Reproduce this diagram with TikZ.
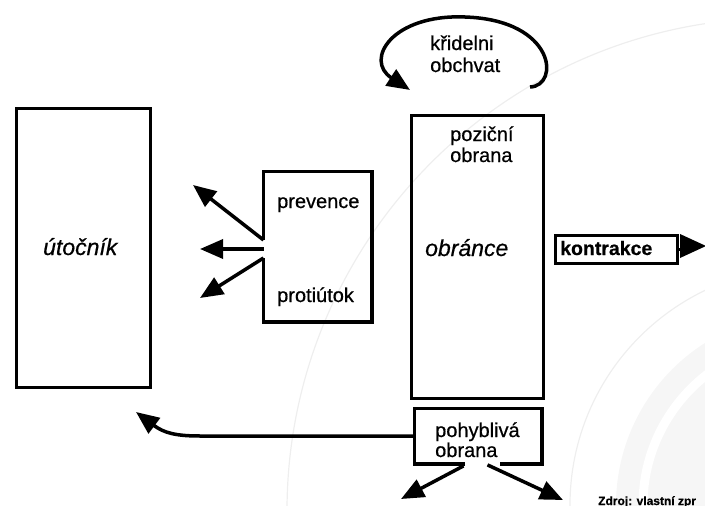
\documentclass[tikz,border=0pt]{standalone}
\usepackage{fontspec}
\setmainfont{Liberation Sans}[FakeBold=0.6]
\usetikzlibrary{arrows.meta,calc}
\begin{document}
\begin{tikzpicture}[x=1pt,y=-1pt,
  boxline/.style={line width=3.5pt, line join=miter},
  frame/.style={inner sep=0pt, anchor=north west},
  box/.style={frame, draw, boxline},
  label/.style={anchor=base west, inner sep=0pt, font=\fontsize{20}{22}\selectfont},
  biglabel/.style={anchor=base west, inner sep=0pt, font=\fontsize{23}{25}\selectfont\itshape},
  arr/.style={line width=3.5pt, -{Triangle[length=23pt,width=19pt]}},
  wm/.style={gray!13, line width=1.2pt}]
\useasboundingbox (0,0) rectangle (705,506);
\clip (0,0) rectangle (705,506);

% faint background arcs
\fill[gray!7] (808,505) circle[radius=192];
\draw[white, line width=9pt] (808,505) circle[radius=165];
\draw[wm] (780,511) circle[radius=493];
\draw[wm] (808,505) circle[radius=238];

% attacker
\node[box, minimum width=134pt, minimum height=279pt] (att) at (14.5,106.5) {};
\node[biglabel] (tatt) at (43,255) {útočník};

% prevention / counter-attack box (gap in left edge for the arrows)
\node[frame, minimum width=108pt, minimum height=150pt] (prev) at (263.5,171.5) {};
\draw[boxline] ($(prev.north west)+(0,68.5)$) |- (prev.north east) |- (prev.south west) -- ($(prev.north west)+(0,86.5)$);
\node[label] (tprev) at (277,208) {prevence};
\node[label] (tprot) at (277,302) {protiútok};
\coordinate (pa) at (193,185);
\coordinate (pb) at (200,249);
\coordinate (pc) at (200,298);
\draw[arr] ($(prev.north west)+(0,68.5)$) -- (pa);
\draw[arr] ($(prev.north west)+(0,77.5)$) -- (pb);
\draw[arr] ($(prev.north west)+(0,86.5)$) -- (pc);

% defender
\node[box, minimum width=132pt, minimum height=283pt] (obr) at (409.5,113.5) {};
\node[label] (tpoz) at (450,141) {poziční};
\node[label] (tpozb) at (450,162) {obrana};
\node[biglabel] (tobr) at (425,256) {obránce};

% flank move loop
\coordinate (wtail) at (530,87);
\coordinate (wtop) at (465,17);
\coordinate (wtip) at (410,90);
\draw[arr] (wtail) .. controls (560,86) and (556,20) .. (wtop) .. controls (392,14) and (364,60) .. (wtip);
\node[label] (tkri) at (430,50) {křidelni};
\node[label] (tobch) at (430,72) {obchvat};

% counter-attack: short stub ending in a large solid head
\node[box, minimum width=122pt, minimum height=28pt] (kon) at (553.5,233.5) {};
\node[label, font=\fontsize{19.5}{22}\selectfont\bfseries] (tkon) at (560,255) {kontrakce};
\coordinate (kontip) at (706,246);
\draw[line width=3.5pt] (kon.east) -- ++(6,0);
\fill (kontip) -- ++(-26,-12) -- ++(0,24) -- cycle;

% mobile defence (gap in bottom edge for the arrows)
\node[frame, minimum width=127pt, minimum height=55pt] (pohyb) at (414.5,408.5) {};
\draw[boxline] ($(pohyb.south west)+(50.5,0)$) -| (pohyb.north west) -| (pohyb.south east) -- ++(-41.5,0);
\node[label] (tpoh) at (435,437) {pohyblivá};
\node[label] (tpohb) at (435,457) {obrana};
\coordinate (bend) at (200,436);
\coordinate (attip) at (136,412);
\draw[arr] (pohyb.west) -- (bend) .. controls (176,436) and (164,433) .. (attip);
\coordinate (pl) at (401,499);
\coordinate (pr) at (563,500);
\draw[arr] ($(pohyb.south west)+(49,2)$) -- (pl);
\draw[arr] ($(pohyb.south west)+(73,1)$) -- (pr);

% source note
\node[anchor=base west, inner sep=0pt, font=\fontsize{12}{14}\selectfont\bfseries] (src) at (598,505) {Zdroj: vlastní zpr};
\end{tikzpicture}
\end{document}
